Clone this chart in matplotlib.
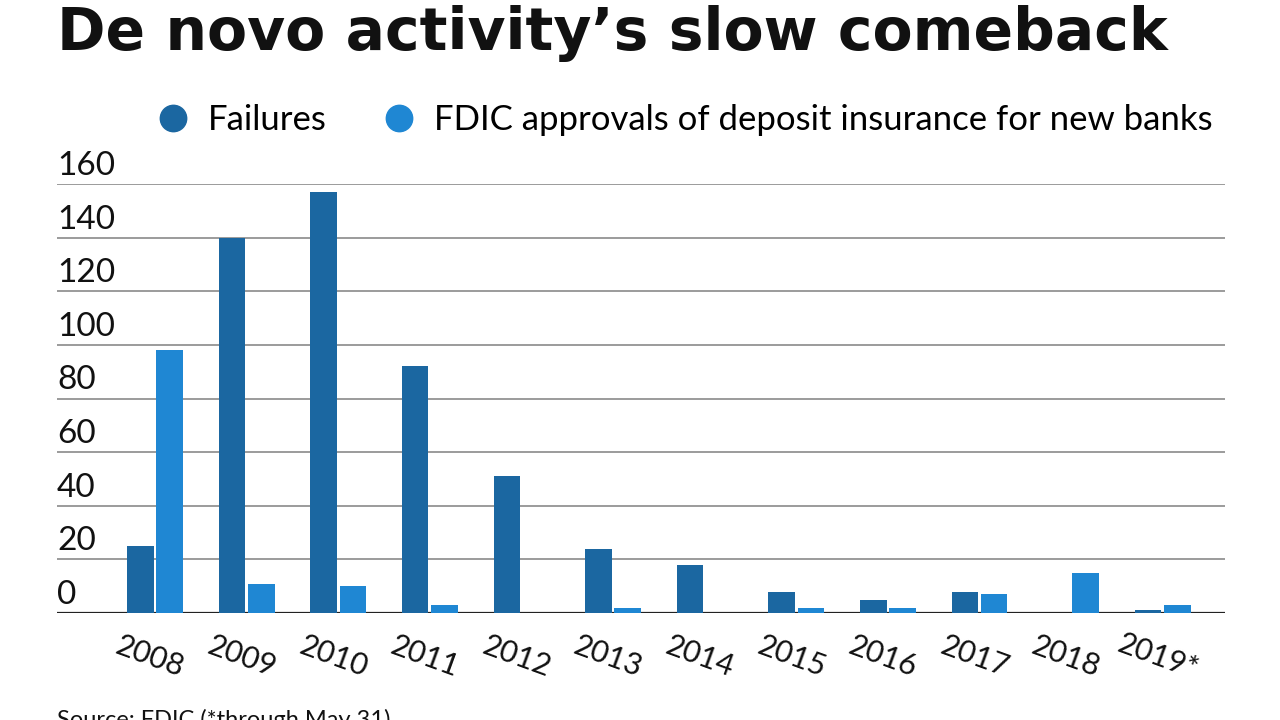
import matplotlib
matplotlib.use('Agg')
import matplotlib.pyplot as plt
from matplotlib.lines import Line2D
import numpy as np

years = ['2008', '2009', '2010', '2011', '2012', '2013',
         '2014', '2015', '2016', '2017', '2018', '2019*']
failures = [25, 140, 157, 92, 51, 24, 18, 8, 5, 8, 0, 1]
approvals = [98, 11, 10, 3, 0, 2, 0, 2, 2, 7, 15, 3]
yticks = [0, 20, 40, 60, 80, 100, 120, 140, 160]

dark = '#1b67a1'
light = '#1f87d3'

plt.rcParams['font.family'] = ['Lato', 'DejaVu Sans']

fig = plt.figure(figsize=(12.8, 7.2), dpi=100)
ax = fig.add_axes([57 / 1280, 107 / 720, 1168 / 1280, 429 / 720])

x = np.arange(len(years))
w = 0.29
ax.bar(x - 0.16, failures, w, color=dark, zorder=3)
ax.bar(x + 0.16, approvals, w, color=light, zorder=3)

ax.set_xlim(-1.07, 11.68)
ax.set_ylim(0, 160)
for v in yticks:
    ax.axhline(v, color='#222222' if v == 0 else '#8a8a8a',
               lw=1.6 if v == 0 else 1.2, zorder=2)
    ax.text(0, v + 3.4, str(v), transform=ax.get_yaxis_transform(),
            ha='left', va='baseline', fontsize=24, color='#111111')
ax.set_yticks([])
ax.set_xticks(x)
ax.set_xticklabels(years, rotation=-20, ha='center', rotation_mode='anchor',
                   fontsize=22, color='#111111')
ax.tick_params(axis='x', length=0, pad=22)
for s in ax.spines.values():
    s.set_visible(False)

fig.text(57 / 1280, 1 - 50 / 720, 'De novo activity\u2019s slow comeback',
         fontsize=42, fontweight='bold', family='DejaVu Sans',
         ha='left', va='baseline', color='#111111')

handles = [Line2D([], [], marker='o', ls='', color=dark, markersize=19),
           Line2D([], [], marker='o', ls='', color=light, markersize=19)]
fig.legend(handles, ['Failures', 'FDIC approvals of deposit insurance for new banks'],
           loc='center right', bbox_to_anchor=(1230 / 1280, 1 - 120 / 720),
           ncol=2, frameon=False, fontsize=25, handletextpad=0.5,
           columnspacing=1.6, borderpad=0, handlelength=1.0)

fig.text(57 / 1280, 1 - 709 / 720, 'Source: FDIC (*through May 31)',
         fontsize=17, ha='left', va='top', color='#111111')

fig.savefig('out.png', dpi=100)
